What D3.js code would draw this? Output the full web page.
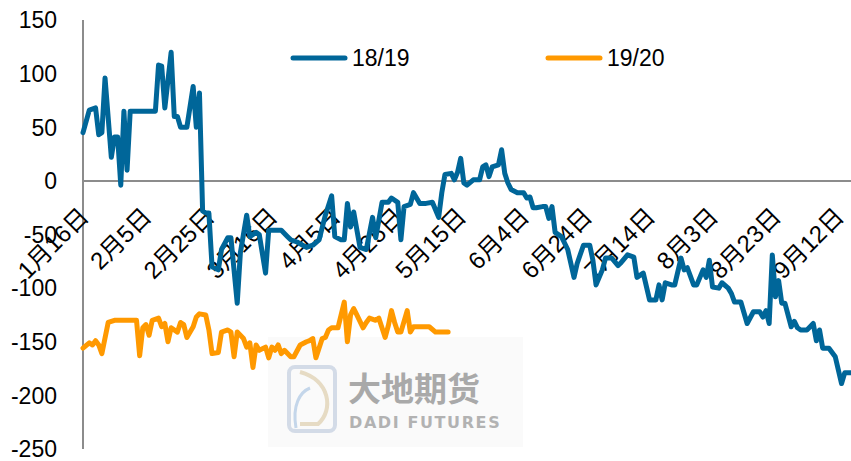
<!DOCTYPE html>
<html>
<head>
<meta charset="utf-8">
<script src="https://cdn.jsdelivr.net/npm/d3@7"></script>
<style>
    body { margin: 0; background: #fff; }
    svg { display: block; }
</style>
</head>
<body>
<div id="chart"></div>
<script>
// 18/19 季度
const dates1819 = ["1/16","1/18","1/20","1/21","1/22","1/23","1/25","1/26","1/27","1/28","1/29","1/30","1/31","2/8","2/9","2/10","2/11","2/13","2/14","2/15","2/16","2/18","2/20","2/21","2/22","2/23","2/24","2/25","2/26","2/28","2/29","3/2","3/3","3/5","3/6","3/8","3/9","3/11","3/12","3/14","3/15","3/17","3/19","3/21","3/22","3/24","3/27","3/29","3/31","4/2","4/4","4/5","4/7","4/8","4/9","4/10","4/11","4/13","4/15","4/17","4/18","4/20","4/22","4/23","4/25","4/26","4/27","4/29","4/30","5/2","5/4","5/6","5/8","5/9","5/10","5/12","5/13","5/14","5/15","5/16","5/17","5/19","5/21","5/22","5/23","5/24","5/25","5/27","5/28","5/29","5/30","5/31","6/2","6/4","6/5","6/6","6/7","6/8","6/10","6/11","6/12","6/13","6/14","6/16","6/18","6/20","6/21","6/23","6/25","6/26","6/27","6/29","6/30","7/2","7/4","7/5","7/7","7/9","7/10","7/12","7/14","7/16","7/17","7/18","7/19","7/21","7/22","7/24","7/25","7/26","7/28","7/29","7/31","8/1","8/2","8/3","8/5","8/6","8/8","8/9","8/10","8/12","8/13","8/14","8/16","8/18","8/19","8/20","8/21","8/22","8/23","8/24","8/25","8/26","8/28","8/29","8/30","8/31","9/2","9/4","9/5","9/6","9/7","9/9","9/11","9/13","9/14","9/16"];
const values1819 = [45,66,68,43,45,96,22,41,41,-4,65,10,65,65,108,107,68,120,60,60,50,50,88,50,82,-28,-30,-30,-80,-83,-64,-53,-53,-114,-67,-32,-52,-48,-50,-86,-46,-46,-46,-52,-55,-57,-62,-60,-55,-32,-14,-52,-55,-55,-21,-43,-29,-62,-64,-34,-53,-20,-20,-16,-20,-55,-24,-22,-11,-21,-21,-20,-34,-11,6,7,1,8,21,-2,-4,1,1,13,15,4,13,15,29,7,-2,-8,-11,-11,-16,-15,-25,-25,-24,-24,-35,-24,-48,-52,-64,-90,-77,-60,-60,-74,-97,-83,-72,-72,-79,-76,-69,-71,-90,-86,-111,-111,-97,-111,-95,-97,-97,-72,-83,-81,-97,-97,-83,-90,-74,-99,-100,-95,-100,-105,-113,-113,-123,-133,-122,-122,-127,-121,-133,-69,-108,-93,-114,-114,-136,-131,-137,-139,-139,-133,-149,-139,-156,-156,-164,-189,-179,-179];

// 19/20 季度
const dates1920 = ["1/16","1/18","1/19","1/20","1/21","1/22","1/24","1/26","2/2","2/3","2/4","2/5","2/6","2/7","2/9","2/10","2/11","2/12","2/13","2/15","2/16","2/17","2/18","2/20","2/21","2/22","2/24","2/25","2/26","2/28","2/29","3/2","3/3","3/4","3/5","3/7","3/8","3/9","3/10","3/11","3/12","3/14","3/15","3/16","3/17","3/18","3/19","3/20","3/22","3/23","3/25","3/27","3/28","3/29","3/30","4/1","4/2","4/3","4/4","4/6","4/8","4/9","4/10","4/11","4/12","4/14","4/15","4/16","4/18","4/19","4/21","4/22","4/23","4/24","4/25","4/26","4/28","4/29","4/30","5/5","5/7","5/11"];
const values1920 = [-156,-151,-153,-149,-153,-161,-132,-130,-130,-163,-137,-134,-144,-130,-128,-136,-133,-150,-137,-141,-132,-134,-146,-136,-127,-124,-125,-139,-161,-160,-141,-139,-141,-164,-141,-147,-155,-151,-174,-153,-158,-155,-165,-155,-158,-153,-161,-158,-164,-164,-153,-150,-149,-147,-165,-147,-146,-139,-137,-137,-113,-150,-125,-119,-125,-137,-132,-128,-130,-128,-146,-135,-121,-132,-141,-141,-121,-141,-136,-136,-141,-141];

const tickDates = ["1/16","2/5","2/25","3/16","4/5","4/25","5/15","6/4","6/24","7/14","8/3","8/23","9/12"];
const yTicks = [150, 100, 50, 0, -50, -100, -150, -200, -250];
const seriesNames = ["18/19", "19/20"];
const colors = ["#006699", "#ff9900"];

const width = 851, height = 461;
const font = '"Liberation Sans", "Noto Sans CJK SC", sans-serif';

// 月/日 -> 日期 (统一放在 2020 年的轴上)
function parseMD (s) {
    const [m, d] = s.split('/').map(Number);
    return new Date(Date.UTC(2020, m - 1, d));
}

const x = d3.scaleUtc()
    .domain([parseMD("1/16"), parseMD("9/16")])
    .range([83, 851]);
const y = d3.scaleLinear()
    .domain([-250, 150])
    .range([449, 20]);

const svg = d3.select('#chart').append('svg')
    .attr('width', width)
    .attr('height', height);

// 水印
function renderWatermark () {
    const g = svg.append('g').attr('class', 'watermark');
    g.append('rect')
        .attr('x', 268).attr('y', 337)
        .attr('width', 255).attr('height', 110)
        .attr('fill', '#fafafa');
    g.append('rect')
        .attr('x', 289).attr('y', 367)
        .attr('width', 46).attr('height', 64)
        .attr('rx', 6)
        .attr('fill', 'none')
        .attr('stroke', '#d3dbe7')
        .attr('stroke-width', 4);
    g.append('path')
        .attr('d', 'M300,372 C330,380 334,410 318,424 L300,424')
        .attr('fill', 'none')
        .attr('stroke', '#e6dbc4')
        .attr('stroke-width', 4);
    g.append('path')
        .attr('d', 'M296,428 C292,405 300,392 310,388')
        .attr('fill', 'none')
        .attr('stroke', '#c4d6ea')
        .attr('stroke-width', 3);
    g.append('text')
        .attr('x', 348).attr('y', 401)
        .attr('font-family', '"Noto Sans CJK SC", sans-serif')
        .attr('font-size', 33)
        .attr('font-weight', 'bold')
        .attr('fill', '#8e8e8e')
        .attr('opacity', 0.75)
        .text('大地期货');
    g.append('text')
        .attr('x', 349).attr('y', 428)
        .attr('font-family', '"DejaVu Sans", sans-serif')
        .attr('font-size', 16)
        .attr('font-weight', 'bold')
        .attr('letter-spacing', 1.6)
        .attr('fill', '#9a9a9a')
        .attr('opacity', 0.75)
        .text('DADI FUTURES');
}

function renderAxes () {
    // y 轴
    svg.append('line')
        .attr('x1', x.range()[0]).attr('x2', x.range()[0])
        .attr('y1', y(150)).attr('y2', y(-250))
        .attr('stroke', '#8c8c8c')
        .attr('stroke-width', 2);

    svg.append('g').selectAll('text')
        .data(yTicks)
        .enter()
        .append('text')
        .attr('x', 57)
        .attr('y', d => y(d))
        .attr('dy', '0.36em')
        .attr('text-anchor', 'end')
        .attr('font-family', font)
        .attr('font-size', 23)
        .attr('fill', '#000')
        .text(d => d);

    // 零线
    svg.append('line')
        .attr('x1', x.range()[0]).attr('x2', x.range()[1])
        .attr('y1', y(0)).attr('y2', y(0))
        .attr('stroke', '#8c8c8c')
        .attr('stroke-width', 2);

    // x 轴标签, 斜 45 度
    svg.append('g').selectAll('text')
        .data(tickDates)
        .enter()
        .append('text')
        .attr('transform', d => 'translate(' + (x(parseMD(d)) + 1) + ',212) rotate(-45)')
        .attr('dy', '0.36em')
        .attr('text-anchor', 'end')
        .attr('font-family', font)
        .attr('font-size', 24)
        .attr('fill', '#000')
        .text(d => {
            const [m, dd] = d.split('/');
            return m + '月' + dd + '日';
        });
}

function renderLines () {
    const line = d3.line()
        .x(d => x(d.date))
        .y(d => y(d.value));

    const series = [
        dates1819.map((d, i) => ({ date: parseMD(d), value: values1819[i] })),
        dates1920.map((d, i) => ({ date: parseMD(d), value: values1920[i] }))
    ];

    svg.append('g').selectAll('path.line')
        .data(series)
        .enter()
        .append('path')
        .attr('class', 'line')
        .attr('fill', 'none')
        .attr('stroke', (d, i) => colors[i])
        .attr('stroke-width', 5)
        .attr('stroke-linejoin', 'round')
        .attr('stroke-linecap', 'round')
        .attr('d', line);
}

function renderLegend () {
    const items = svg.append('g').selectAll('g')
        .data(seriesNames)
        .enter()
        .append('g')
        .attr('transform', (d, i) => 'translate(' + (293 + i * 255) + ',58)');
    items.append('line')
        .attr('x1', 0).attr('x2', 52)
        .attr('stroke', (d, i) => colors[i])
        .attr('stroke-width', 5)
        .attr('stroke-linecap', 'round');
    items.append('text')
        .attr('x', 59)
        .attr('dy', '0.36em')
        .attr('font-family', font)
        .attr('font-size', 23)
        .attr('fill', '#000')
        .text(d => d);
}

renderWatermark();
renderAxes();
renderLines();
renderLegend();
</script>
</body>
</html>
